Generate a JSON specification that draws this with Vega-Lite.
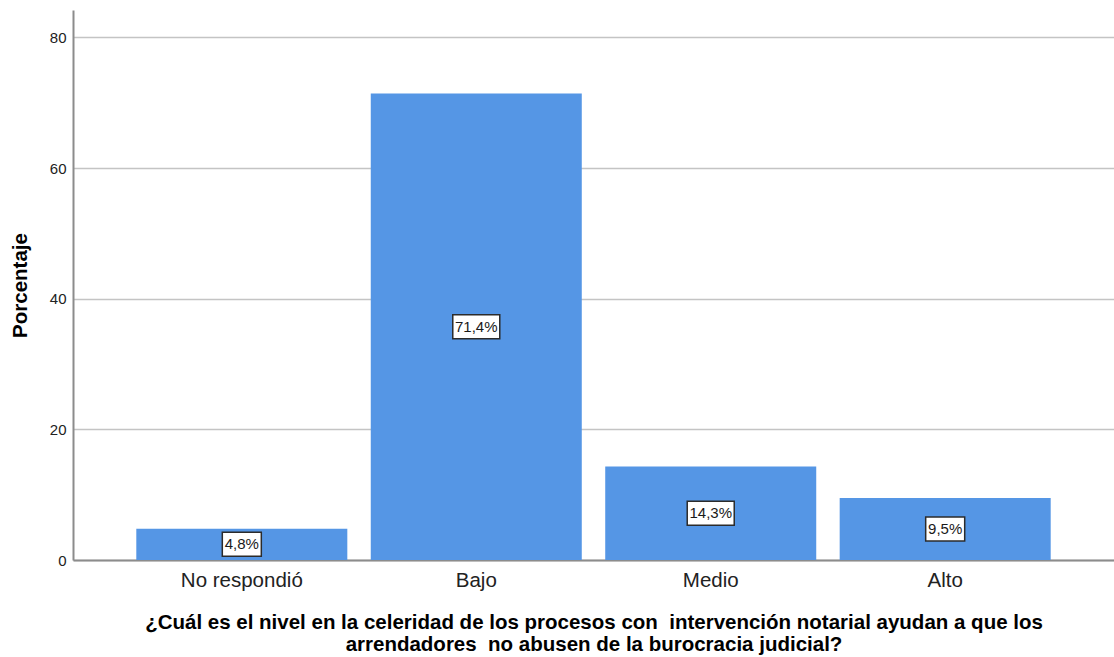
{
  "$schema": "https://vega.github.io/schema/vega-lite/v6.json",
  "width": 1041,
  "height": 550,
  "autosize": {"type": "none"},
  "padding": {"left": 73, "top": 10, "right": 0, "bottom": 97},
  "background": "white",
  "config": {
    "view": {"stroke": null},
    "font": "Liberation Sans"
  },
  "data": {
    "values": [
      {"respuesta": "No respondió", "porcentaje": 4.8, "etiqueta": "4,8%"},
      {"respuesta": "Bajo", "porcentaje": 71.4, "etiqueta": "71,4%"},
      {"respuesta": "Medio", "porcentaje": 14.3, "etiqueta": "14,3%"},
      {"respuesta": "Alto", "porcentaje": 9.5, "etiqueta": "9,5%"}
    ]
  },
  "encoding": {
    "x": {
      "field": "respuesta",
      "type": "nominal",
      "sort": ["No respondió", "Bajo", "Medio", "Alto"],
      "scale": {"paddingInner": 0.1, "paddingOuter": 0.27},
      "axis": {
        "title": ["¿Cuál es el nivel en la celeridad de los procesos con \u00a0intervención notarial ayudan a que los", "arrendadores \u00a0no abusen de la burocracia judicial?"],
        "titleFont": "Liberation Sans",
        "titleFontSize": 20.5,
        "titleFontWeight": "bold",
        "titleColor": "#000000",
        "titlePadding": 22,
        "titleLineHeight": 22,
        "labelAngle": 0,
        "labelFont": "Liberation Sans",
        "labelFontSize": 20.5,
        "labelColor": "#222222",
        "labelPadding": 10,
        "ticks": false,
        "domainColor": "#8c8c8c",
        "domainWidth": 2,
        "grid": false
      }
    }
  },
  "layer": [
    {
      "mark": {"type": "bar", "color": "#5596e5"},
      "encoding": {
        "y": {
          "field": "porcentaje",
          "type": "quantitative",
          "scale": {"domain": [0, 84.2], "nice": false},
          "axis": {
            "title": "Porcentaje",
            "titleFont": "Liberation Sans",
            "titleFontSize": 20.5,
            "titleFontWeight": "bold",
            "titleColor": "#000000",
            "titlePadding": 19,
            "values": [0, 20, 40, 60, 80],
            "labelFont": "Liberation Sans",
            "labelFontSize": 15,
            "labelColor": "#222222",
            "labelPadding": 7,
            "ticks": false,
            "domainColor": "#8c8c8c",
            "domainWidth": 2,
            "gridColor": "#c4c4c4",
            "gridWidth": 1.5
          }
        }
      }
    },
    {
      "transform": [{"calculate": "datum.porcentaje / 2", "as": "mitad"}],
      "mark": {"type": "point", "filled": true, "fill": "white", "stroke": "#2b2b2b", "strokeWidth": 1.5, "size": 4, "opacity": 1},
      "encoding": {
        "y": {"field": "mitad", "type": "quantitative"},
        "shape": {
          "field": "etiqueta",
          "type": "nominal",
          "legend": null,
          "scale": {
            "domain": ["4,8%", "71,4%", "14,3%", "9,5%"],
            "range": [
              "M-19.5,-12 H19.5 V12 H-19.5 Z",
              "M-23.5,-12 H23.5 V12 H-23.5 Z",
              "M-23.5,-12 H23.5 V12 H-23.5 Z",
              "M-19.5,-12 H19.5 V12 H-19.5 Z"
            ]
          }
        }
      }
    },
    {
      "transform": [{"calculate": "datum.porcentaje / 2", "as": "mitad"}],
      "mark": {"type": "text", "font": "Liberation Sans", "fontSize": 15, "color": "#1a1a1a", "baseline": "middle", "align": "center"},
      "encoding": {
        "y": {"field": "mitad", "type": "quantitative"},
        "text": {"field": "etiqueta"}
      }
    }
  ]
}
